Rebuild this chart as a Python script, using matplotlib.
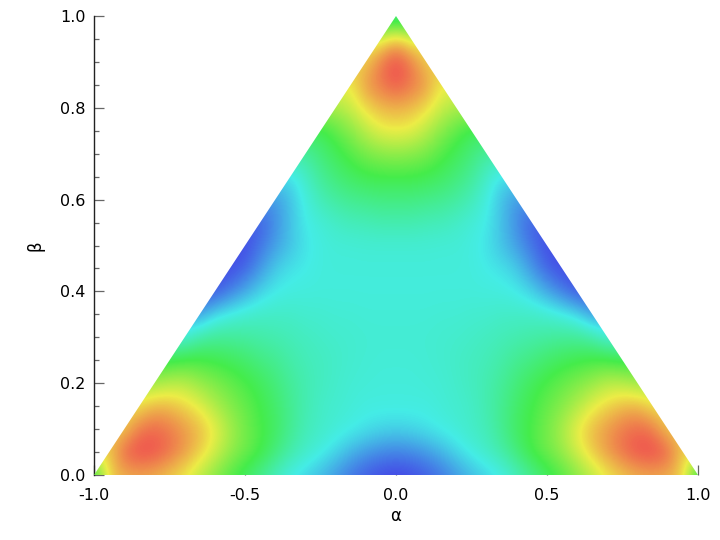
import matplotlib
matplotlib.use("Agg")
import matplotlib.pyplot as plt
import numpy as np
from matplotlib.colors import LinearSegmentedColormap
from matplotlib.patches import Polygon
from matplotlib.ticker import MultipleLocator

plt.rcParams["axes.unicode_minus"] = False

# colour-scale units: 0 blue, 1 cyan, 2 green, 3 yellow, 4 red
# rows: beta = 0, 0.05, ... 1.0; columns: alpha = 0, 0.05, ... up to the edge (picture is mirror-symmetric)
field_rows = [
    [0.0, 0.05, 0.15, 0.3, 0.5, 0.7, 0.85, 1.0, 1.25, 1.55, 1.85, 2.1, 2.4, 2.7, 3.0, 3.2, 3.35, 3.4, 3.35, 3.15, 1.8],
    [0.38, 0.42, 0.52, 0.68, 0.88, 1.05, 1.2, 1.4, 1.7, 2.05, 2.25, 2.5, 2.85, 3.2, 3.5, 3.75, 3.95, 4.0, 3.85, 3.2],
    [0.85, 0.88, 0.95, 1.03, 1.1, 1.2, 1.3, 1.55, 1.85, 2.05, 2.3, 2.6, 3.0, 3.3, 3.5, 3.7, 3.8, 3.7, 3.2],
    [1.05, 1.05, 1.05, 1.1, 1.15, 1.2, 1.35, 1.55, 1.8, 2.0, 2.2, 2.4, 2.65, 2.95, 3.15, 3.3, 3.35, 3.1],
    [1.08, 1.08, 1.1, 1.12, 1.18, 1.25, 1.35, 1.5, 1.7, 1.9, 2.05, 2.2, 2.35, 2.5, 2.7, 2.7, 2.55],
    [1.1, 1.1, 1.12, 1.15, 1.2, 1.25, 1.3, 1.4, 1.55, 1.65, 1.8, 1.9, 1.98, 2.05, 2.05, 1.95],
    [1.12, 1.12, 1.13, 1.15, 1.17, 1.2, 1.25, 1.3, 1.35, 1.4, 1.45, 1.5, 1.5, 1.4, 1.1],
    [1.1, 1.1, 1.1, 1.12, 1.12, 1.15, 1.15, 1.2, 1.2, 1.2, 1.15, 1.05, 0.9, 0.55],
    [1.07, 1.07, 1.07, 1.07, 1.07, 1.07, 1.07, 1.05, 1.0, 0.85, 0.6, 0.35, 0.1],
    [1.08, 1.08, 1.08, 1.08, 1.08, 1.07, 1.0, 0.95, 0.8, 0.5, 0.2, 0.05],
    [1.12, 1.12, 1.12, 1.1, 1.1, 1.05, 0.95, 0.75, 0.55, 0.3, 0.05],
    [1.35, 1.35, 1.3, 1.28, 1.2, 1.1, 1.0, 0.75, 0.45, 0.15],
    [1.65, 1.65, 1.6, 1.55, 1.45, 1.3, 1.05, 0.75, 0.5],
    [2.0, 2.0, 1.95, 1.85, 1.7, 1.5, 1.2, 0.9],
    [2.45, 2.4, 2.3, 2.1, 1.9, 1.7, 1.45],
    [3.0, 2.95, 2.7, 2.4, 2.15, 1.9],
    [3.35, 3.3, 3.1, 2.8, 2.6],
    [3.9, 3.7, 3.5, 3.0],
    [4.0, 3.7, 3.2],
    [3.3, 2.9],
    [1.5],
]
band_colors = ["#4444e6", "#44ece6", "#44ec4b", "#ecec46", "#f04850"]
y_major = [0.0, 0.2, 0.4, 0.6, 0.8, 1.0]
x_major = [-1.0, -0.5, 0.0, 0.5, 1.0]

ncol = len(field_rows[0])
right = np.array([r + [r[-1]] * (ncol - len(r)) for r in field_rows])
grid = np.hstack([right[:, :0:-1], right])
half = 0.025  # half a grid cell, so each value sits on its own alpha/beta

fig = plt.figure(figsize=(7.2, 5.4), dpi=100)
ax = fig.add_axes([94 / 720, 65 / 540, 604 / 720, 459 / 540])
cmap = LinearSegmentedColormap.from_list("rb", band_colors)
im = ax.imshow(grid, origin="lower", extent=(-1.0 - half, 1.0 + half, -half, 1.0 + half), aspect="auto",
               cmap=cmap, vmin=0, vmax=4, interpolation="bicubic",
               interpolation_stage="data", zorder=3)
tri = Polygon([(-1, 0), (1, 0), (0, 1)], transform=ax.transData, fc="none", ec="none")
ax.add_patch(tri)
im.set_clip_path(tri)

ax.set_xlim(-1, 1)
ax.set_ylim(0, 1)
ax.set_axisbelow(True)
for s in ("top", "right", "bottom"):
    ax.spines[s].set_visible(False)
ax.spines["left"].set_linewidth(1.0)
ax.spines["left"].set_color("#222222")
ax.set_xticks(x_major)
ax.set_yticks(y_major)
ax.yaxis.set_minor_locator(MultipleLocator(0.05))
ax.tick_params(axis="both", which="major", direction="in", length=7.2, width=0.9,
               color="#666666", labelsize=11.5)
ax.tick_params(axis="x", which="major", pad=9)
ax.tick_params(axis="y", which="major", pad=6)
ax.tick_params(axis="y", which="minor", direction="in", length=3.6, width=0.9, color="#666666")
ax.set_xlabel("α", fontsize=12, labelpad=3)
ax.set_ylabel("β", fontsize=12, labelpad=11)
fig.savefig("out.png", dpi=100)
